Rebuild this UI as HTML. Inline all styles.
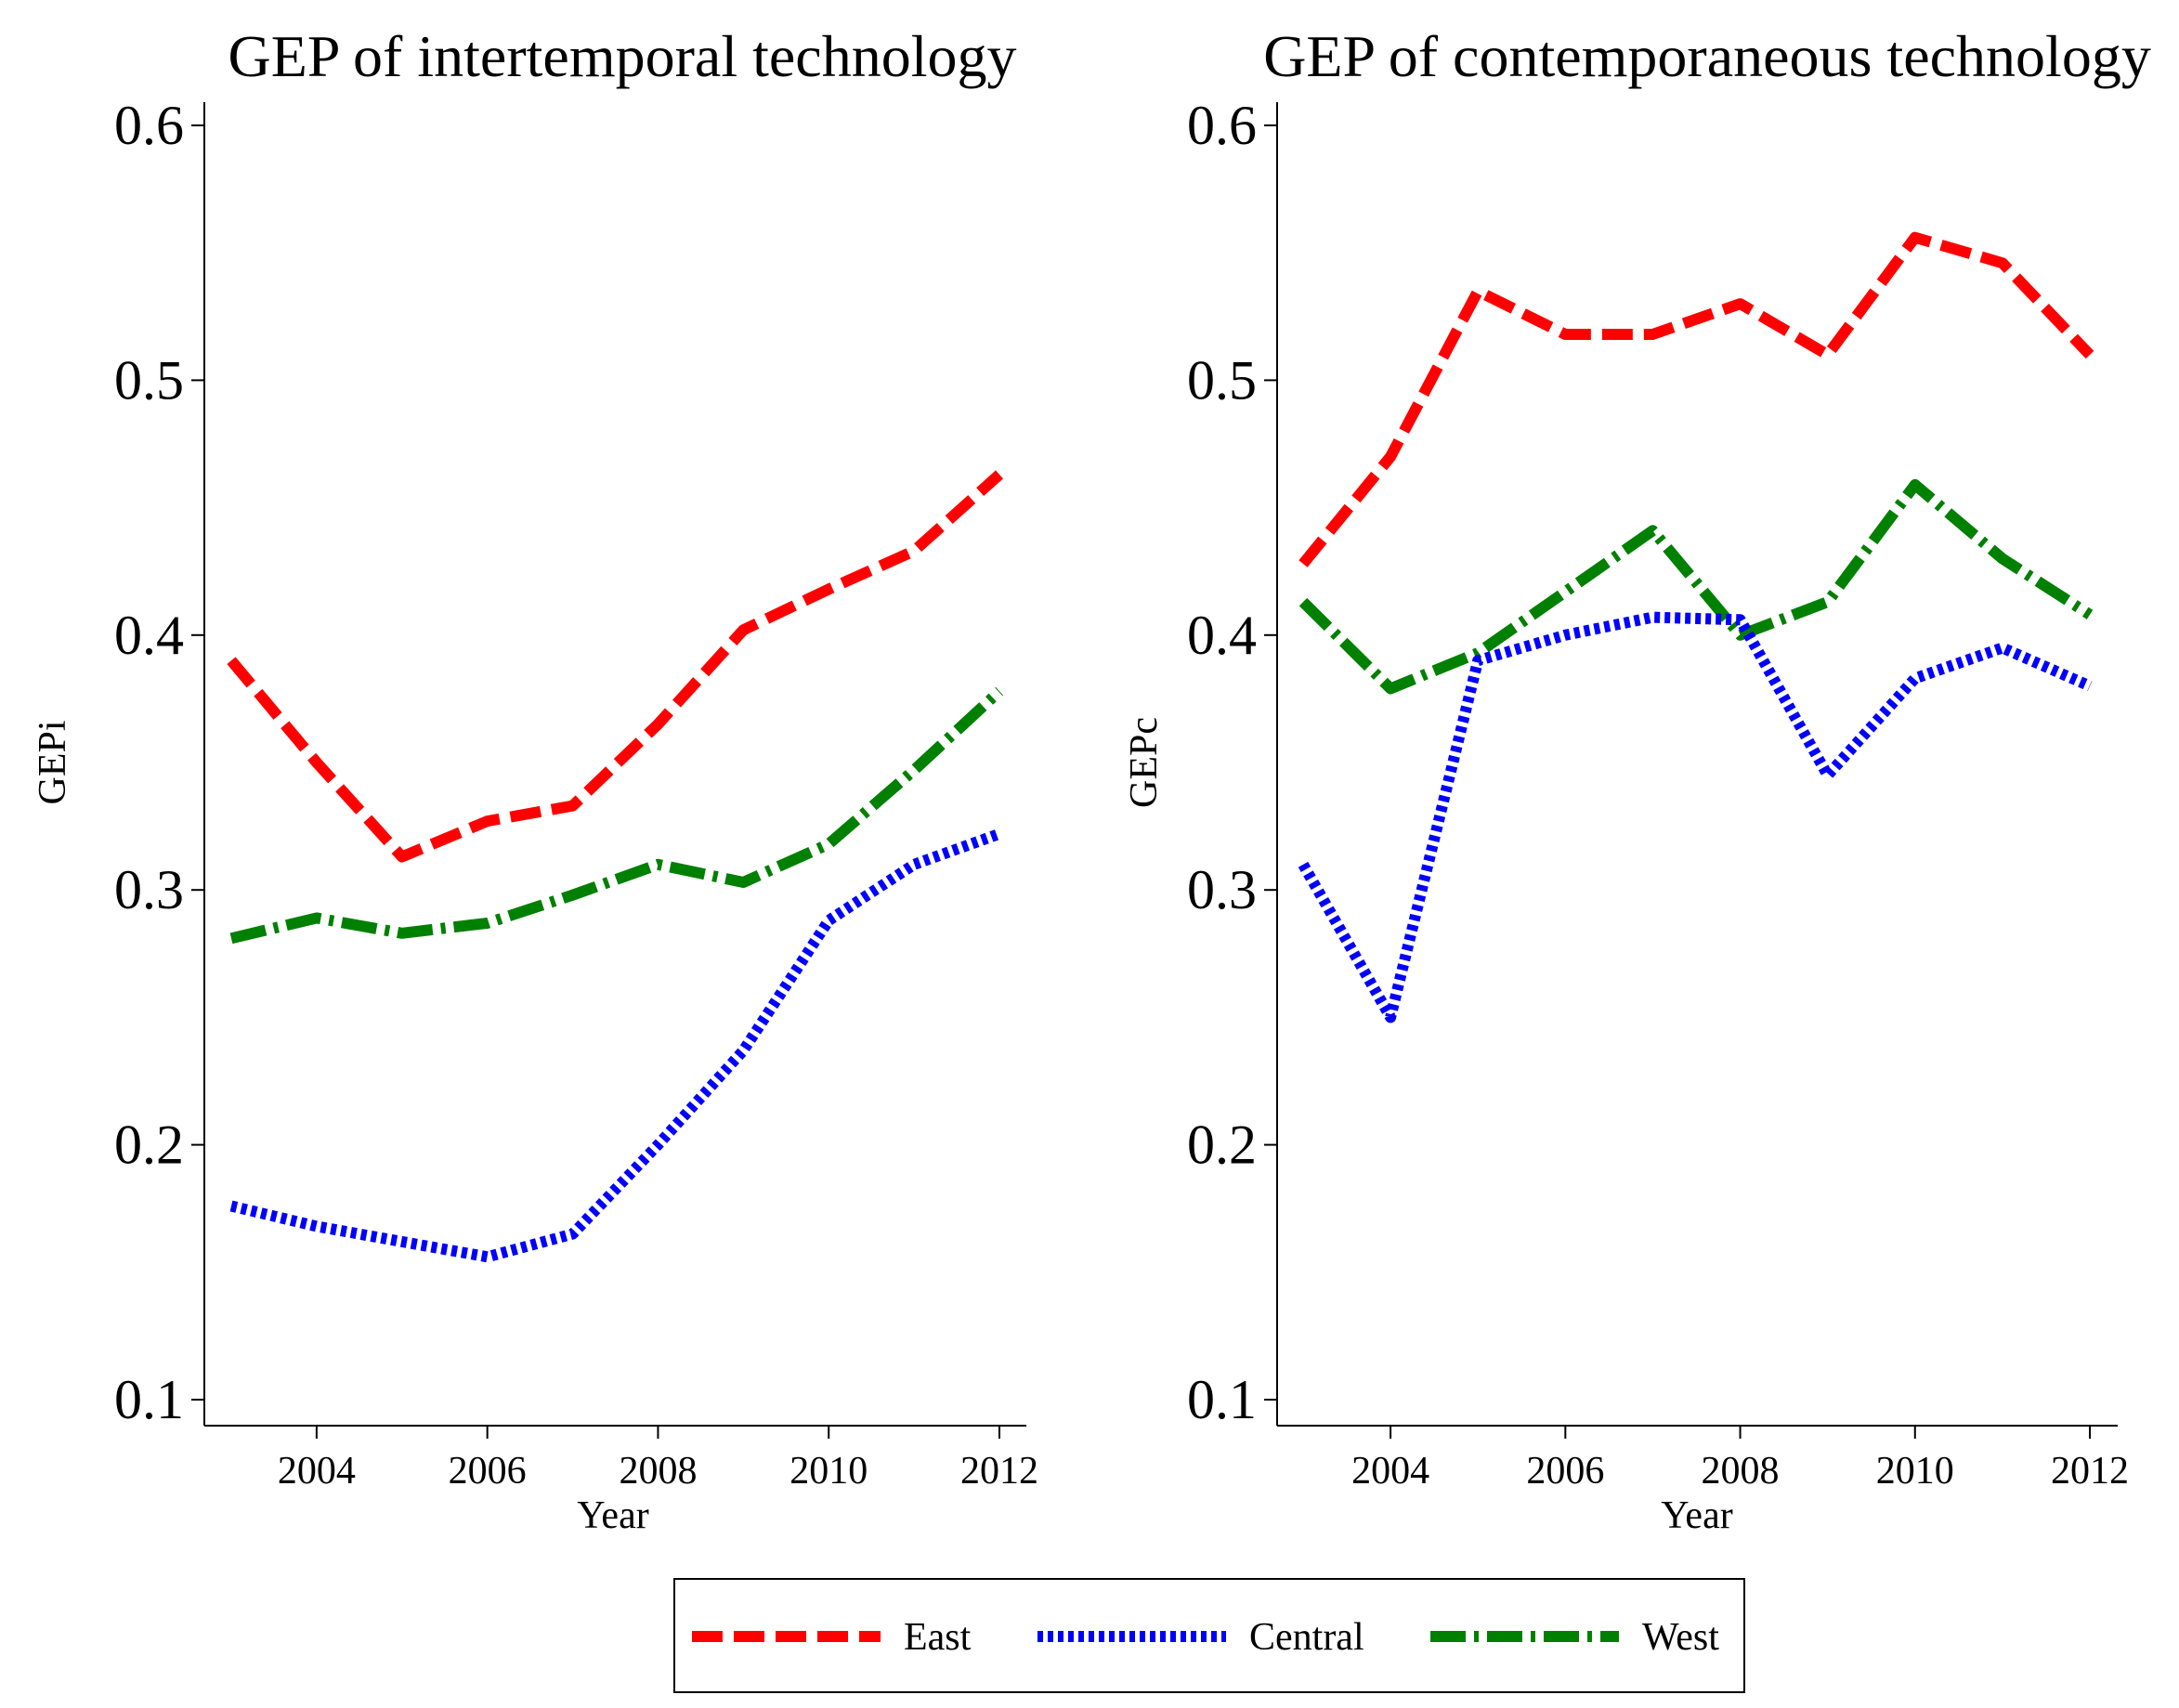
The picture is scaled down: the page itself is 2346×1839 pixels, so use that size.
<!DOCTYPE html>
<html><head><meta charset="utf-8">
<style>
html,body{margin:0;padding:0;background:#fff;}
svg{display:block;font-family:"Liberation Serif",serif;}
</style></head>
<body>
<svg id="chart" width="2346" height="1839" viewBox="0 0 2346 1839" xmlns="http://www.w3.org/2000/svg">
<g id="root"></g>
</svg>
<script>
const years = [2003,2004,2005,2006,2007,2008,2009,2010,2011,2012];
const yTicks = [0.1,0.2,0.3,0.4,0.5,0.6];
const xTicks = [2004,2006,2008,2010,2012];
const leftEast = [0.39,0.35,0.313,0.327,0.333,0.365,0.402,0.418,0.433,0.463];
const leftCentral = [0.176,0.168,0.162,0.156,0.165,0.2,0.237,0.288,0.31,0.322];
const leftWest = [0.281,0.289,0.283,0.287,0.298,0.31,0.303,0.318,0.347,0.378];
const rightEast = [0.428,0.47,0.535,0.518,0.518,0.53,0.51,0.556,0.546,0.51];
const rightCentral = [0.31,0.25,0.39,0.4,0.407,0.406,0.345,0.383,0.395,0.38];
const rightWest = [0.413,0.379,0.393,0.417,0.441,0.4,0.413,0.459,0.43,0.408];

const NS="http://www.w3.org/2000/svg";
const root=document.getElementById('root');
function mk(tag,attrs,parent){const e=document.createElementNS(NS,tag);for(const k in attrs)e.setAttribute(k,attrs[k]);(parent||root).appendChild(e);return e;}
const styles={
  east:{stroke:'#ff0000',dash:'33 12'},
  central:{stroke:'#0000ff',dash:'6 5'},
  west:{stroke:'#008000',dash:'38 9 5 9'}
};
function panel(cfg){
  const g=mk('g',{});
  
  
  const yS=v=>cfg.y0+(v-0.6)/(0.1-0.6)*(cfg.y1-cfg.y0);
  const xS=yr=>cfg.x0+(yr-2003)/(2012-2003)*(cfg.x1-cfg.x0);
  const ax=mk('line',{x1:cfg.ax,y1:110,x2:cfg.ax,y2:cfg.axY,stroke:'#000','stroke-width':2},g);
  
  
  const bx=mk('line',{x1:cfg.ax,y1:cfg.axY,x2:cfg.axEnd,y2:cfg.axY,stroke:'#000','stroke-width':2},g);
  
  
  yTicks.forEach(t=>{
    const y=yS(t);
    mk('line',{x1:cfg.ax-14,y1:y,x2:cfg.ax,y2:y,stroke:'#000','stroke-width':2},g);
    const tx=mk('text',{x:cfg.ax-22,y:y+20,'text-anchor':'end','font-size':60},g);
    tx.textContent=t.toFixed(1);
    
    
  });
  xTicks.forEach(t=>{
    const x=xS(t);
    mk('line',{x1:x,y1:cfg.axY,x2:x,y2:cfg.axY+14,stroke:'#000','stroke-width':2},g);
    const tx=mk('text',{x:x,y:cfg.axY+62,'text-anchor':'middle','font-size':42},g);
    tx.textContent=t;
    
    
  });
  const title=mk('text',{x:cfg.tx,y:82,'text-anchor':'middle','font-size':64},g);
  title.textContent=cfg.title;
  
  
  const xl=mk('text',{x:cfg.xlx,y:1645,'text-anchor':'middle','font-size':42},g);
  xl.textContent='Year';
  
  
  const yl=mk('text',{x:0,y:0,'text-anchor':'middle','font-size':42,transform:`translate(${cfg.ylx},${yS(0.35)}) rotate(-90)`},g);
  yl.textContent=cfg.ylabel;
  
  
  [['east',cfg.east],['west',cfg.west],['central',cfg.central]].forEach(([k,arr])=>{
    const d=arr.map((v,i)=>(i?'L':'M')+xS(years[i]).toFixed(1)+' '+yS(v).toFixed(1)).join(' ');
    const p=mk('path',{d:d,fill:'none',stroke:styles[k].stroke,'stroke-width':12,'stroke-dasharray':styles[k].dash,'stroke-linejoin':'round'},g);
    
    
  });
}
panel({name:'panel-intertemporal',x0:249,x1:1076,y0:135,y1:1507,ax:220,axY:1535,axEnd:1105,tx:670,xlx:660,ylx:70,ylabel:'GEPi',title:'GEP of intertemporal technology',east:leftEast,central:leftCentral,west:leftWest});
panel({name:'panel-contemporaneous',x0:1403,x1:2250,y0:135,y1:1507,ax:1375,axY:1535,axEnd:2280,tx:1838,xlx:1827,ylx:1245,ylabel:'GEPc',title:'GEP of contemporaneous technology',east:rightEast,central:rightCentral,west:rightWest});

const lg=mk('g',{});


mk('rect',{x:726,y:1700,width:1152,height:122,fill:'#fff',stroke:'#000','stroke-width':2},lg);
const legendNames=['East','Central','West'];
const legendKeys=['east','central','west'];
const lx=[745,1117,1540];
legendKeys.forEach((k,i)=>{
  const l=mk('line',{x1:lx[i],y1:1762,x2:lx[i]+203,y2:1762,stroke:styles[k].stroke,'stroke-width':12,'stroke-dasharray':styles[k].dash},lg);
  
  
  const t=mk('text',{x:lx[i]+228,y:1776,'font-size':42},lg);
  t.textContent=legendNames[i];
  
  
});
</script>
</body></html>
